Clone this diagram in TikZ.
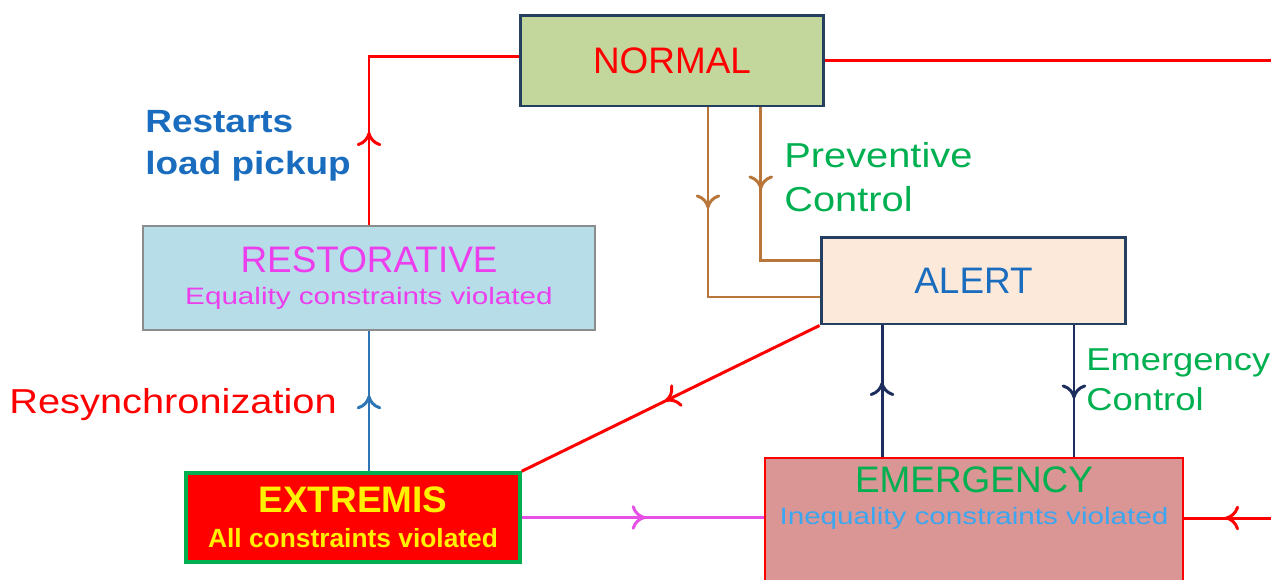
\documentclass[tikz,border=0pt]{standalone}
\usepackage{fontspec}
\setmainfont{Liberation Sans}
\newfontfamily\widesans[FakeStretch=1.15]{Liberation Sans}
\newfontfamily\widersans[FakeStretch=1.25]{Liberation Sans}
\usetikzlibrary{arrows.meta,decorations.markings}

\definecolor{navyline}{HTML}{1D2D5E}
\definecolor{navyborder}{HTML}{243F60}
\definecolor{brownline}{HTML}{B8763B}
\definecolor{normalfill}{HTML}{C3D69B}
\definecolor{alertfill}{HTML}{FDE9D9}
\definecolor{restfill}{HTML}{B7DDE8}
\definecolor{emergfill}{HTML}{D99694}
\definecolor{restborder}{HTML}{8C8C8C}
\definecolor{pinktext}{HTML}{EC3EEC}
\definecolor{pinkline}{HTML}{E650E6}
\definecolor{skyblue}{HTML}{3CA6F0}
\definecolor{labelblue}{HTML}{1A6DBE}
\definecolor{lineblue}{HTML}{2E75B6}
\definecolor{okgreen}{HTML}{00B050}

\tikzset{
  statebox/.style={draw, inner sep=0pt, align=center},
  conn/.style={line width=1.7pt},
  midarrow/.style={postaction={decorate},
    decoration={markings, mark=at position #1 with {\arrow{To[length=8pt,width=14pt]}}}},
  sidelabel/.style={anchor=base west, inner sep=0pt, align=left},
}

\begin{document}
\begin{tikzpicture}[x=0.02cm, y=-0.02cm]
    \clip (0,0) rectangle (1271,579);

    % State boxes
    \node[statebox, line width=1.7pt, draw=navyborder, fill=normalfill, text=red,
          minimum width=6.08cm, minimum height=1.82cm,
          font=\fontsize{21}{24}\selectfont] (normal) at (672,60.5) {NORMAL};
    \node[statebox, line width=1.7pt, draw=navyborder, fill=alertfill, text=labelblue,
          minimum width=6.1cm, minimum height=1.74cm,
          font=\fontsize{21}{24}\selectfont] (alert) at (973.5,280.5) {ALERT};
    \node[statebox, line width=1.1pt, draw=restborder, fill=restfill, text=pinktext,
          minimum width=9.06cm, minimum height=2.08cm,
          font=\fontsize{21}{18.7pt}\selectfont] (restorative) at (369,278)
          {RESTORATIVE\\{\widersans\fontsize{13.5}{18.7pt}\selectfont Equality constraints violated}};
    \node[statebox, line width=2pt, draw=okgreen, fill=red, text=yellow,
          minimum width=6.68cm, minimum height=1.78cm,
          font=\bfseries\fontsize{21}{19.8pt}\selectfont] (extremis) at (353,517.5)
          {EXTREMIS\\{\fontsize{15}{19.8pt}\selectfont All constraints violated}};
    \node[statebox, line width=1.2pt, draw=red, fill=emergfill,
          minimum width=8.36cm, minimum height=4cm] (emergency) at (974,558) {};
    \node[anchor=north, inner sep=0pt, align=center, text=okgreen,
          font=\fontsize{21}{18.7pt}\selectfont] (emergtext) at ([yshift=-0.18cm]emergency.north)
          {EMERGENCY\\{\widersans\color{skyblue}\fontsize{13.5}{18.7pt}\selectfont Inequality constraints violated}};

    % Free ends at the right edge
    \coordinate (outtop) at (1280,60.5);
    \coordinate (outbot) at (1280,518);

    % Connectors
    \draw[conn, red, midarrow=1.86cm] (restorative.north) |- ([yshift=0.09cm]normal.west);
    \draw[conn, red] (normal.east) -- (outtop);
    \draw[conn, red, midarrow=1.1cm] (outbot) -- (emergency.east |- outbot);
    \draw[conn, brownline, midarrow=2.02cm] ([xshift=0.72cm]normal.south) |- ([yshift=-0.33cm]alert.west);
    \draw[conn, brownline, midarrow=1.64cm] ([xshift=1.776cm]normal.south) |- ([yshift=0.41cm]alert.west);
    \draw[conn, red, midarrow=3.44cm] (alert.south west) -- (extremis.north east);
    \draw[conn, navyline, midarrow=1.5cm] ([xshift=-1.84cm]emergency.north) -- ([xshift=-1.84cm]emergency.north |- alert.south);
    \draw[conn, navyline, midarrow=1.46cm] ([xshift=2cm]emergency.north |- alert.south) -- ([xshift=2cm]emergency.north);
    \draw[conn, lineblue, midarrow=1.52cm] (extremis.north -| restorative.south) -- (restorative.south);
    \draw[conn, pinkline, midarrow=2.48cm] (extremis.east) -- (extremis.east -| emergency.west);

    % Labels (base = last line)
    \node[sidelabel, text=labelblue, font=\widesans\bfseries\fontsize{18.3}{23.8pt}\selectfont]
          (restarts) at (145,174) {Restarts\\load pickup};
    \node[sidelabel, text=red, font=\widesans\fontsize{19.7}{24}\selectfont]
          (resync) at (9,413) {Resynchronization};
    \node[sidelabel, text=okgreen, font=\widesans\fontsize{19.7}{24.9pt}\selectfont]
          (preventive) at (784,211) {Preventive\\Control};
    \node[sidelabel, text=okgreen, font=\widesans\fontsize{18}{22.7pt}\selectfont]
          (emergctrl) at (1086,410) {Emergency\\Control};
\end{tikzpicture}
\end{document}
